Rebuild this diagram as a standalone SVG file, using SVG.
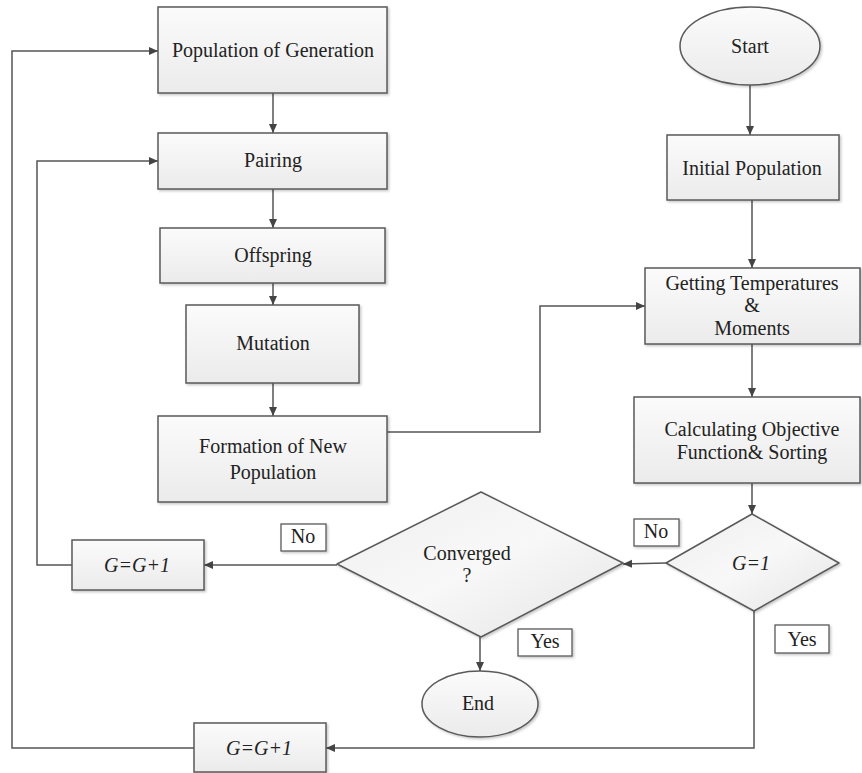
<svg xmlns="http://www.w3.org/2000/svg" width="862" height="773" viewBox="0 0 862 773">
<style>
.box{fill:url(#g);stroke:#5a5a5a;stroke-width:1.5;filter:url(#sh)}
.lbl{fill:#fff;stroke:#5a5a5a;stroke-width:1.3;filter:url(#sh)}
.t{font-size:20px;fill:#222;text-anchor:middle}
.i{font-style:italic}
.c{fill:none;stroke:#555;stroke-width:1.5}
</style>
<defs>
<linearGradient id="g" x1="0" y1="0" x2="0" y2="1">
<stop offset="0" stop-color="#fbfbfb"/><stop offset="1" stop-color="#ebebeb"/>
</linearGradient>
<linearGradient id="gd" x1="0" y1="0" x2="1" y2="1">
<stop offset="0" stop-color="#eeeeee"/><stop offset="0.5" stop-color="#f8f8f8"/><stop offset="1" stop-color="#e4e4e4"/>
</linearGradient>
<filter id="sh" x="-10%" y="-10%" width="130%" height="130%">
<feDropShadow dx="1.5" dy="1.5" stdDeviation="1.2" flood-color="#000" flood-opacity="0.22"/>
</filter>
<marker id="a" markerWidth="10" markerHeight="10" refX="9" refY="5" orient="auto" markerUnits="userSpaceOnUse">
<path d="M0,1 L9,5 L0,9 Z" fill="#444"/>
</marker>
</defs>

<g id="connectors">
<line class="c" x1="273" y1="93" x2="273" y2="133" marker-end="url(#a)"/>
<line class="c" x1="273" y1="189" x2="273" y2="228" marker-end="url(#a)"/>
<line class="c" x1="273" y1="283" x2="273" y2="305" marker-end="url(#a)"/>
<line class="c" x1="273" y1="383" x2="273" y2="416" marker-end="url(#a)"/>
<polyline class="c" points="387,432 540,432 540,306 645,306" marker-end="url(#a)"/>
<line class="c" x1="750" y1="85" x2="750" y2="135" marker-end="url(#a)"/>
<line class="c" x1="752" y1="200" x2="752" y2="268" marker-end="url(#a)"/>
<line class="c" x1="752" y1="344" x2="752" y2="397" marker-end="url(#a)"/>
<line class="c" x1="752" y1="483" x2="752" y2="514" marker-end="url(#a)"/>
<line class="c" x1="666" y1="563" x2="623" y2="564" marker-end="url(#a)"/>
<line class="c" x1="337" y1="565" x2="204" y2="565" marker-end="url(#a)"/>
<polyline class="c" points="72,565 37,565 37,161 158,161" marker-end="url(#a)"/>
<line class="c" x1="480" y1="637" x2="480" y2="671" marker-end="url(#a)"/>
<polyline class="c" points="754,611 754,748 326,748" marker-end="url(#a)"/>
<polyline class="c" points="194,748 12,748 12,51 158,51" marker-end="url(#a)"/>
</g>

<g font-family="'Liberation Serif', 'DejaVu Serif', serif">
<g id="pop-gen"><rect class="box" x="158" y="7" width="229" height="86"/><text class="t" x="273" y="57">Population of Generation</text></g>
<g id="pairing"><rect class="box" x="158" y="133" width="229" height="56"/><text class="t" x="273" y="167">Pairing</text></g>
<g id="offspring"><rect class="box" x="160" y="228" width="225" height="55"/><text class="t" x="273" y="262">Offspring</text></g>
<g id="mutation"><rect class="box" x="186" y="305" width="173" height="78"/><text class="t" x="273" y="350">Mutation</text></g>
<g id="formation"><rect class="box" x="158" y="416" width="229" height="86"/><text class="t" x="273" y="453">Formation of New</text><text class="t" x="273" y="479">Population</text></g>

<g id="start"><ellipse class="box" cx="750" cy="46" rx="70" ry="39"/><text class="t" x="750" y="53">Start</text></g>
<g id="initial"><rect class="box" x="667" y="135" width="172" height="65"/><text class="t" x="752" y="175">Initial Population</text></g>
<g id="getting"><rect class="box" x="645" y="268" width="215" height="76"/><text class="t" x="752" y="290">Getting Temperatures</text><text class="t" x="752" y="312">&amp;</text><text class="t" x="752" y="335">Moments</text></g>
<g id="calc"><rect class="box" x="634" y="397" width="226" height="86"/><text class="t" x="752" y="436">Calculating Objective</text><text class="t" x="752" y="459">Function&amp; Sorting</text></g>

<g id="g1"><path class="box" style="fill:url(#gd);stroke-linejoin:round" d="M752,514 L839,563 L754,611 L666,563 Z"/><text class="t i" x="751" y="570">G=1</text></g>
<g id="converged"><path class="box" style="fill:url(#gd);stroke-linejoin:round" d="M481,492 L623,563 L481,637 L337,564 Z"/><text class="t" x="467" y="560">Converged</text><text class="t" x="467" y="582">?</text></g>

<g id="inc1"><rect class="box" x="72" y="540" width="132" height="50"/><text class="t i" x="137" y="572">G=G+1</text></g>
<g id="inc2"><rect class="box" x="194" y="723" width="132" height="49"/><text class="t i" x="259" y="755">G=G+1</text></g>
<g id="end"><ellipse class="box" cx="480" cy="704" rx="58" ry="33"/><text class="t" x="478" y="710">End</text></g>

<g id="no-left"><rect class="lbl" x="281" y="524" width="45" height="27"/><text class="t" x="303" y="543">No</text></g>
<g id="no-right"><rect class="lbl" x="634" y="519" width="45" height="27"/><text class="t" x="656" y="538">No</text></g>
<g id="yes-conv"><rect class="lbl" x="518" y="629" width="54" height="27"/><text class="t" x="545" y="648">Yes</text></g>
<g id="yes-g1"><rect class="lbl" x="775" y="625" width="54" height="28"/><text class="t" x="802" y="646">Yes</text></g>
</g>
</svg>
